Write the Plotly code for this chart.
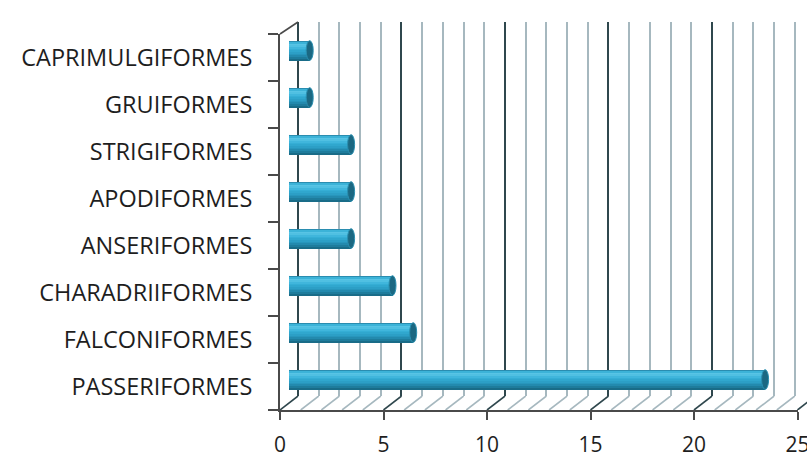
import plotly.graph_objects as go

# Bird orders and number of species recorded (bottom to top)
orders = ["PASSERIFORMES", "FALCONIFORMES", "CHARADRIIFORMES", "ANSERIFORMES",
          "APODIFORMES", "STRIGIFORMES", "GRUIFORMES", "CAPRIMULGIFORMES"]
counts = [23, 6, 5, 3, 3, 3, 1, 1]
x_ticks = [0, 5, 10, 15, 20, 25]

# ---- canvas geometry (pixels) ----
W, H = 807, 457
UNIT = 20.7            # pixels per count on the value axis
FRONT_X0 = 280         # value 0 on the front plane
FRONT_BOTTOM, FRONT_TOP = 410, 34
DEPTH_X, DEPTH_Y = 18, 14
BACK_X0 = FRONT_X0 + DEPTH_X
BACK_BOTTOM, BACK_TOP = FRONT_BOTTOM - DEPTH_Y, 22
MID_X0 = FRONT_X0 + DEPTH_X / 2
MID_SHIFT_Y = DEPTH_Y / 2


def px(x):
    return x / W


def py(y):
    return (H - y) / H


GRID_MAJOR = "#2f474d"
GRID_MINOR = "#a6b8bf"
AXIS_COL = "#4a4a4a"
TEXT_COL = "#1e1e1e"
FONT = "Open Sans"

fig = go.Figure()

# front plane (carries the axes only)
fig.add_trace(go.Scatter(x=[0], y=[0], mode="markers", marker=dict(opacity=0),
                         xaxis="x", yaxis="y", showlegend=False, hoverinfo="skip"))

# ---- back wall (vertical gridlines) ----
back_lo = -0.05
back_hi = (W - BACK_X0) / UNIT
fig.add_trace(go.Scatter(x=[0], y=[0], mode="markers", marker=dict(opacity=0),
                         xaxis="x2", yaxis="y2", showlegend=False, hoverinfo="skip"))

# ---- cylinder bars on the mid-depth plane ----
bar_w = 0.42
shades = ["#2a8db0", "#3cb3d8", "#58c4e5", "#50c0e2", "#40b6dc", "#35aed5",
          "#30a7ce", "#2c9fc6", "#2896bc", "#238aae", "#1e7c9c", "#196c88"]
n = len(shades)
strip = bar_w / n
for i, c in enumerate(shades):
    top = bar_w / 2 - i * strip
    fig.add_trace(go.Bar(
        x=counts, y=orders, orientation="h",
        width=strip * 1.15, offset=top - strip * 1.1,
        marker=dict(color=c, line=dict(width=0)),
        xaxis="x3", yaxis="y3", showlegend=False, hoverinfo="skip",
    ))

# ---- floor hatching ----
floor_hi = (W - FRONT_X0) / UNIT
minor_x, minor_y, major_x, major_y = [], [], [], []
for k in range(0, 26):
    xs = [k, k + DEPTH_X / UNIT, None]
    ys = [0, 1, None]
    if k % 5 == 0:
        major_x += xs
        major_y += ys
    else:
        minor_x += xs
        minor_y += ys
fig.add_trace(go.Scatter(x=minor_x, y=minor_y, mode="lines", xaxis="x4", yaxis="y4",
                         line=dict(color=GRID_MINOR, width=1.6),
                         showlegend=False, hoverinfo="skip"))
fig.add_trace(go.Scatter(x=major_x, y=major_y, mode="lines", xaxis="x4", yaxis="y4",
                         line=dict(color=GRID_MAJOR, width=1.6),
                         showlegend=False, hoverinfo="skip"))

# ---- cylinder end caps ----
shapes = []
for i, v in enumerate(counts):
    # rounded near end (behind the body)
    shapes.append(dict(type="circle", xref="x3", yref="y3", xsizemode="pixel",
                       xanchor=0, x0=-3.5, x1=3.5,
                       y0=i - bar_w / 2, y1=i + bar_w / 2,
                       fillcolor="#2fa6cd", line=dict(width=0), layer="below"))
    # far end face
    shapes.append(dict(type="circle", xref="x3", yref="y3", xsizemode="pixel",
                       xanchor=v, x0=-3.5, x1=3.5,
                       y0=i - bar_w / 2, y1=i + bar_w / 2,
                       fillcolor="#1b6882", line=dict(color="#2a8fb0", width=1)))

# edge joining the front axis top to the back wall
shapes.append(dict(type="line", xref="paper", yref="paper",
                   x0=px(FRONT_X0), y0=py(FRONT_TOP), x1=px(BACK_X0), y1=py(BACK_TOP),
                   line=dict(color=AXIS_COL, width=1.6)))

hidden = dict(visible=False, automargin=False)

fig.update_layout(
    width=W, height=H,
    margin=dict(l=0, r=0, t=0, b=0, autoexpand=False),
    paper_bgcolor="white", plot_bgcolor="rgba(0,0,0,0)",
    barmode="overlay", bargap=0,
    shapes=shapes,
    # front plane: value axis and category labels
    xaxis=dict(domain=[px(FRONT_X0), px(FRONT_X0 + 25 * UNIT)], range=[0, 25],
               anchor="y", tickmode="array", tickvals=x_ticks, automargin=False,
               ticklabeloverflow="allow",
               showgrid=False, zeroline=False,
               showline=True, linecolor=AXIS_COL, linewidth=2,
               ticks="outside", ticklen=8, tickwidth=2, tickcolor=AXIS_COL,
               ticklabelstandoff=7,
               tickfont=dict(family=FONT, size=21, color=TEXT_COL)),
    yaxis=dict(domain=[py(FRONT_BOTTOM), py(FRONT_TOP)], range=[0, len(orders)],
               anchor="x", tickmode="array", automargin=False,
               ticklabeloverflow="allow",
               tickvals=[i + 0.5 for i in range(len(orders))], ticktext=orders,
               showgrid=False, zeroline=False,
               showline=True, linecolor=AXIS_COL, linewidth=2,
               ticks="outside", ticklen=0, tickcolor=AXIS_COL,
               minor=dict(tick0=0, dtick=1,
                          ticks="outside", ticklen=10, tickwidth=2, tickcolor=AXIS_COL),
               ticklabelstandoff=21,
               tickfont=dict(family=FONT, size=23.5, color=TEXT_COL)),
    # back wall
    xaxis2=dict(domain=[px(BACK_X0 + back_lo * UNIT), 1], range=[back_lo, back_hi],
                anchor="y2", tick0=0, dtick=5, showticklabels=False, ticks="",
                automargin=False,
                showgrid=True, gridcolor=GRID_MAJOR, gridwidth=2,
                zeroline=True, zerolinecolor=GRID_MAJOR, zerolinewidth=2,
                minor=dict(tick0=0, dtick=1, showgrid=True, gridcolor=GRID_MINOR, gridwidth=2),
                showline=False),
    yaxis2=dict(domain=[py(BACK_BOTTOM), py(BACK_TOP)], range=[0, 1], anchor="x2", **hidden),
    # mid-depth plane carrying the cylinders
    xaxis3=dict(domain=[px(MID_X0), px(MID_X0 + 25 * UNIT)], range=[0, 25], anchor="y3",
                **hidden),
    yaxis3=dict(domain=[py(FRONT_BOTTOM - MID_SHIFT_Y), py(FRONT_TOP - MID_SHIFT_Y)],
                type="category", categoryorder="array", categoryarray=orders,
                range=[-0.5, len(orders) - 0.5], anchor="x3", **hidden),
    # floor
    xaxis4=dict(domain=[px(FRONT_X0), 1], range=[0, floor_hi], anchor="y4", **hidden),
    yaxis4=dict(domain=[py(FRONT_BOTTOM), py(BACK_BOTTOM)], range=[0, 1], anchor="x4",
                **hidden),
)

fig.write_html("out.html")
